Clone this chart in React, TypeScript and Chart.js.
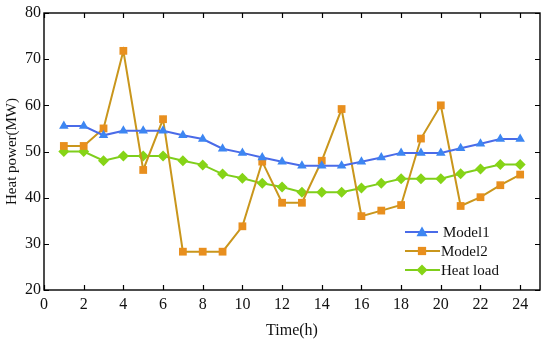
import React, { useEffect, useRef } from "react";
import { Chart, registerables } from "chart.js";

Chart.register(...registerables);

const hours = [1, 2, 3, 4, 5, 6, 7, 8, 9, 10, 11, 12, 13, 14, 15, 16, 17, 18, 19, 20, 21, 22, 23, 24];
const model1 = [55.5, 55.5, 53.5, 54.5, 54.5, 54.5, 53.5, 52.7, 50.6, 49.7, 48.7, 47.8, 46.9, 46.9, 46.9, 47.8, 48.7, 49.7, 49.7, 49.7, 50.7, 51.7, 52.7, 52.7];
const model2 = [51.2, 51.2, 55, 71.8, 46, 57, 28.3, 28.3, 28.3, 33.8, 47.8, 38.9, 38.9, 48, 59.2, 36, 37.2, 38.4, 52.8, 60, 38.2, 40.1, 42.7, 45];
const heatLoad = [50, 50, 48, 49, 49, 49, 48, 47.1, 45.1, 44.2, 43.1, 42.3, 41.2, 41.2, 41.2, 42.1, 43.1, 44.1, 44.1, 44.1, 45.2, 46.2, 47.2, 47.2];
const xTicks = [0, 2, 4, 6, 8, 10, 12, 14, 16, 18, 20, 22, 24];
const yTicks = [20, 30, 40, 50, 60, 70, 80];
const seriesNames = ["Model1", "Model2", "Heat load"];

const FONT = "'Liberation Serif', 'Times New Roman', serif";

function drawMarker(ctx: CanvasRenderingContext2D, style: string, r: number, x: number, y: number, color: string) {
  ctx.save();
  ctx.fillStyle = color;
  ctx.beginPath();
  if (style === "triangle") {
    ctx.moveTo(x, y - r);
    ctx.lineTo(x + r, y + r * 0.75);
    ctx.lineTo(x - r, y + r * 0.75);
  } else if (style === "rect") {
    ctx.rect(x - r * 0.75, y - r * 0.75, r * 1.5, r * 1.5);
  } else {
    ctx.moveTo(x, y - r);
    ctx.lineTo(x + r, y);
    ctx.lineTo(x, y + r);
    ctx.lineTo(x - r, y);
  }
  ctx.closePath();
  ctx.fill();
  ctx.restore();
}

export default function App() {
  const ref = useRef<HTMLCanvasElement | null>(null);
  useEffect(() => {
    if (!ref.current) return;
    const toPts = (arr: number[]) => arr.map((v, i) => ({ x: hours[i], y: v }));

    const frame = {
      id: "frameTicks",
      afterDraw(chart: any) {
        const { ctx, chartArea: a, scales } = chart;
        const x = scales.x, y = scales.y;
        ctx.save();
        ctx.strokeStyle = "#000";
        ctx.lineWidth = 1.4;
        ctx.strokeRect(a.left, a.top, a.right - a.left, a.bottom - a.top);
        ctx.lineWidth = 1.2;
        ctx.beginPath();
        xTicks.forEach((t) => {
          const px = Math.round(x.getPixelForValue(t)) + 0.5;
          ctx.moveTo(px, a.bottom);
          ctx.lineTo(px, a.bottom - 5);
          ctx.moveTo(px, a.top);
          ctx.lineTo(px, a.top + 5);
        });
        yTicks.forEach((t) => {
          const py = Math.round(y.getPixelForValue(t)) + 0.5;
          ctx.moveTo(a.left, py);
          ctx.lineTo(a.left + 5, py);
          ctx.moveTo(a.right, py);
          ctx.lineTo(a.right - 5, py);
        });
        ctx.stroke();

        // legend
        const ds = chart.data.datasets;
        const lx = 405, rows = [232, 251, 270];
        ds.forEach((d: any, i: number) => {
          const yy = rows[i];
          ctx.strokeStyle = d.borderColor;
          ctx.lineWidth = 2;
          ctx.beginPath();
          ctx.moveTo(lx, yy);
          ctx.lineTo(lx + (i === 0 ? 33 : 35), yy);
          ctx.stroke();
          drawMarker(ctx, d.pointStyle, d.pointRadius, lx + 17, yy, d.pointBackgroundColor);
          ctx.fillStyle = "#111";
          ctx.font = `15px ${FONT}`;
          ctx.textBaseline = "middle";
          ctx.textAlign = "left";
          ctx.fillText(seriesNames[i], i === 0 ? lx + 38 : lx + 36, yy + 1);
        });
        ctx.restore();
      },
    };

    const chart = new Chart(ref.current, {
      type: "line",
      data: {
        datasets: [
          {
            label: seriesNames[0],
            data: toPts(model1),
            borderColor: "#4a6be8",
            borderWidth: 2,
            pointStyle: "triangle",
            pointRadius: 5.5,
            pointBackgroundColor: "#3d86f2",
            pointBorderWidth: 0,
            tension: 0,
          },
          {
            label: seriesNames[1],
            data: toPts(model2),
            borderColor: "#c9961c",
            borderWidth: 2,
            pointStyle: "rect",
            pointRadius: 5.5,
            pointBackgroundColor: "#e88f1e",
            pointBorderWidth: 0,
            tension: 0,
          },
          {
            label: seriesNames[2],
            data: toPts(heatLoad),
            borderColor: "#7fce1c",
            borderWidth: 2,
            pointStyle: "rectRot",
            pointRadius: 5.5,
            pointBackgroundColor: "#86d416",
            pointBorderWidth: 0,
            tension: 0,
          },
        ],
      },
      options: {
        animation: false,
        responsive: false,
        maintainAspectRatio: false,
        layout: { padding: { top: 13, right: 10, left: 0, bottom: 0 } },
        plugins: { legend: { display: false }, tooltip: { enabled: false } },
        scales: {
          x: {
            type: "linear",
            min: 0,
            max: 25,
            afterBuildTicks: (s: any) => {
              s.ticks = xTicks.map((v) => ({ value: v }));
            },
            afterFit: (s: any) => {
              s.height = 54;
            },
            grid: { display: false, drawTicks: false },
            border: { display: false },
            ticks: { color: "#111", font: { family: FONT, size: 16 }, padding: 5, maxRotation: 0 },
            title: { display: true, text: "Time(h)", color: "#111", font: { family: FONT, size: 16 }, padding: { top: 5 } },
          },
          y: {
            min: 20,
            max: 80,
            afterBuildTicks: (s: any) => {
              s.ticks = yTicks.map((v) => ({ value: v }));
            },
            afterFit: (s: any) => {
              s.width = 44;
            },
            grid: { display: false, drawTicks: false },
            border: { display: false },
            ticks: { color: "#111", font: { family: FONT, size: 16 }, padding: 3 },
            title: { display: true, text: "Heat power(MW)", color: "#111", font: { family: FONT, size: 15 }, padding: { top: 3, bottom: 0 } },
          },
        },
      },
      plugins: [frame],
    });
    return () => chart.destroy();
  }, []);

  return (
    <div style={{ position: "fixed", left: 0, top: 0, width: 550, height: 344, background: "#fff" }}>
      <canvas ref={ref} width={550} height={344} style={{ width: 550, height: 344 }} />
    </div>
  );
}
